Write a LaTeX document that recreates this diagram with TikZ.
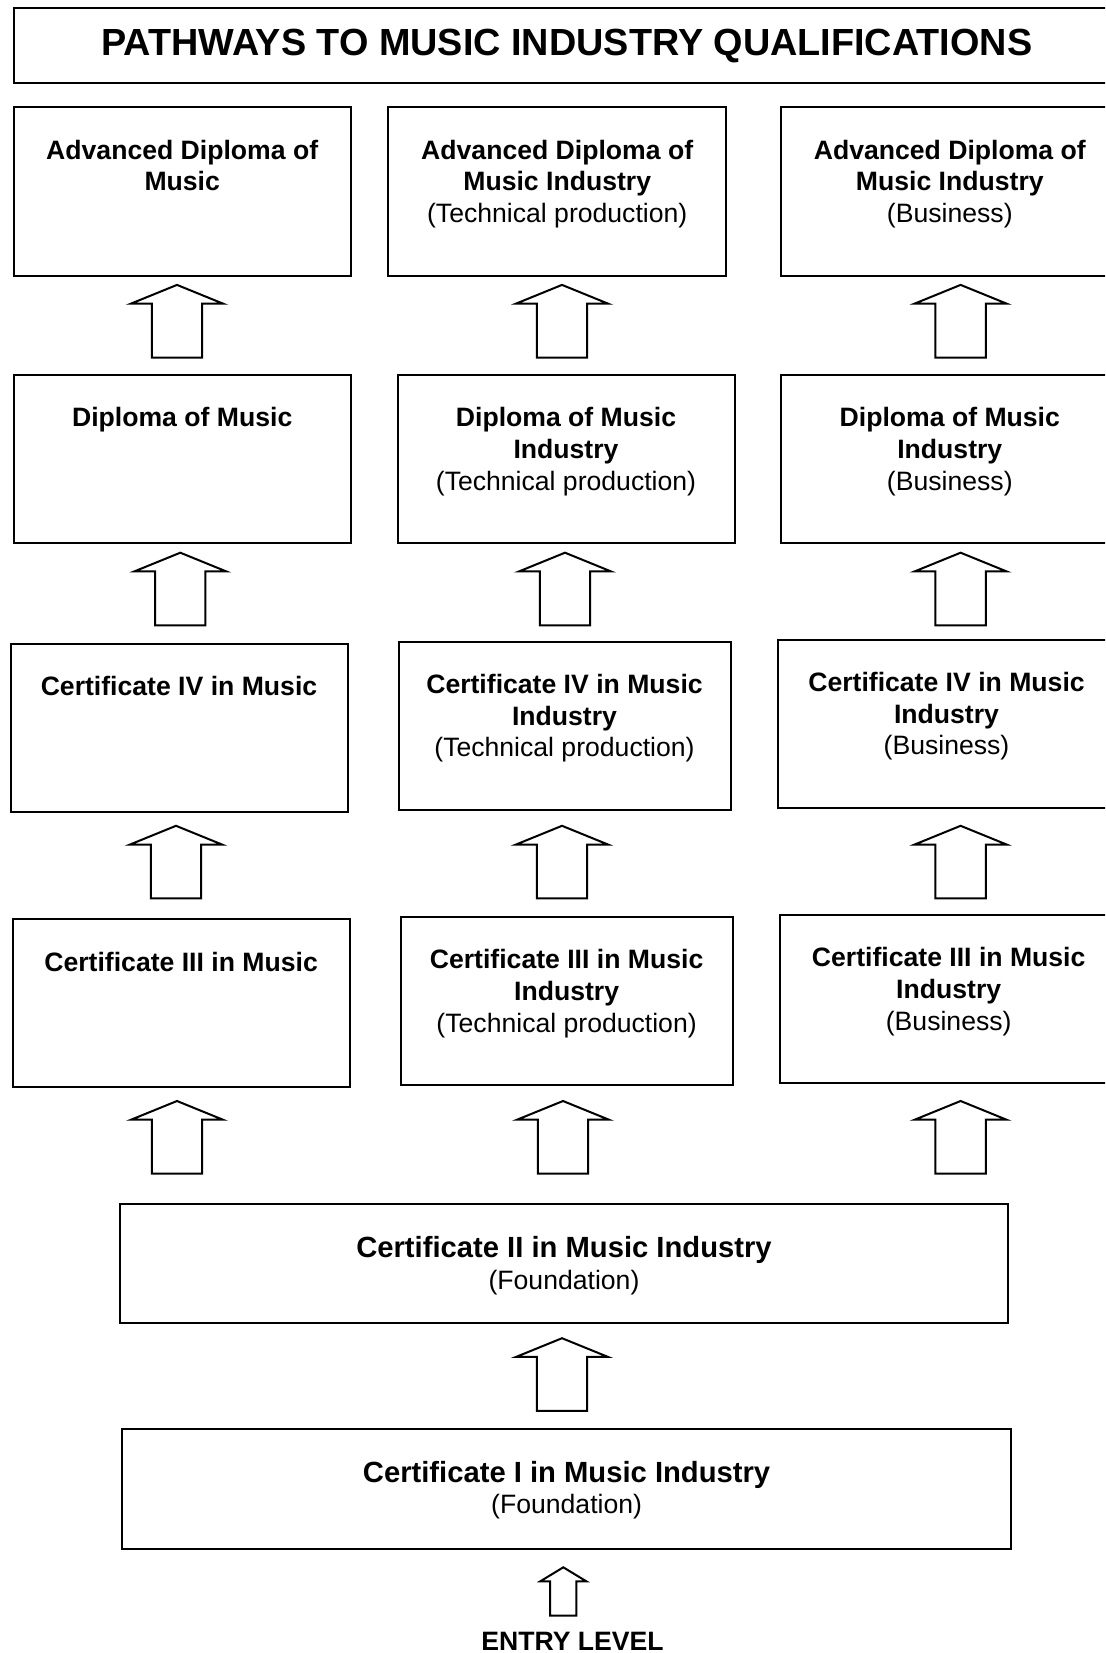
\documentclass[tikz,border=0pt]{standalone}
\usepackage{fontspec}
\setmainfont{Liberation Sans}
\usetikzlibrary{shapes.arrows}

\begin{document}
\begin{tikzpicture}[
  x=0.5pt, y=-0.5pt,
  font=\fontsize{13.3}{15.8}\selectfont,
  qualbox/.style={draw, line width=1pt, anchor=north west, inner sep=0pt,
    minimum width=#1, minimum height=84pt},
  qualbox/.default=168.5pt,
  qualtext/.style={anchor=north, align=center, inner sep=0pt, yshift=-16.5pt},
  bigup/.style={single arrow, draw, line width=1pt, rotate=90, anchor=tail,
    inner xsep=0pt, inner ysep=12.07pt, minimum width=0pt, minimum height=36.3pt,
    single arrow head extend=10.4pt, single arrow tip angle=135.7},
  smallup/.style={bigup, inner ysep=6.07pt, minimum height=24.2pt,
    single arrow head extend=4.9pt, single arrow tip angle=117.4}
]
\clip (0,0) rectangle (1105,1653);

% title
\node[qualbox=553pt, minimum height=37.4pt,
  font=\fontsize{18.9}{22}\selectfont\bfseries] (title) at (12.7,7.4)
  {PATHWAYS TO MUSIC INDUSTRY QUALIFICATIONS};

% advanced diplomas
\node[qualbox, label={[qualtext]north:{\bfseries Advanced Diploma of}\\{\bfseries Music}}]
  (advmus) at (12.7,106.5) {};
\node[qualbox=169.2pt, label={[qualtext]north:{\bfseries Advanced Diploma of}\\{\bfseries Music Industry}\\(Technical production)}]
  (advtech) at (387,106.5) {};
\node[qualbox, label={[qualtext]north:{\bfseries Advanced Diploma of}\\{\bfseries Music Industry}\\(Business)}]
  (advbus) at (780.3,106.5) {};

% diplomas
\node[qualbox, label={[qualtext]north:{\bfseries Diploma of Music}}]
  (dipmus) at (12.7,374.3) {};
\node[qualbox, label={[qualtext]north:{\bfseries Diploma of Music}\\{\bfseries Industry}\\(Technical production)}]
  (diptech) at (396.5,374.3) {};
\node[qualbox, label={[qualtext]north:{\bfseries Diploma of Music}\\{\bfseries Industry}\\(Business)}]
  (dipbus) at (780.3,374.3) {};

% certificate IV
\node[qualbox, label={[qualtext]north:{\bfseries Certificate IV in Music}}]
  (cfourmus) at (9.5,643.2) {};
\node[qualbox=166pt, label={[qualtext]north:{\bfseries Certificate IV in Music}\\{\bfseries Industry}\\(Technical production)}]
  (cfourtech) at (397.5,641) {};
\node[qualbox, label={[qualtext]north:{\bfseries Certificate IV in Music}\\{\bfseries Industry}\\(Business)}]
  (cfourbus) at (777,639) {};

% certificate III
\node[qualbox, label={[qualtext]north:{\bfseries Certificate III in Music}}]
  (cthreemus) at (11.6,918.4) {};
\node[qualbox=166pt, label={[qualtext]north:{\bfseries Certificate III in Music}\\{\bfseries Industry}\\(Technical production)}]
  (cthreetech) at (399.6,916.3) {};
\node[qualbox, label={[qualtext]north:{\bfseries Certificate III in Music}\\{\bfseries Industry}\\(Business)}]
  (cthreebus) at (779.2,914.2) {};

% certificates II and I
\node[qualbox=443.9pt, minimum height=59.6pt,
  label={[qualtext]north:{\fontsize{14.6}{15.8}\selectfont\bfseries Certificate II in Music Industry}\\(Foundation)}]
  (certtwo) at (119.1,1203) {};
\node[qualbox=444.3pt, minimum height=60.1pt,
  label={[qualtext]north:{\fontsize{14.6}{15.8}\selectfont\bfseries Certificate I in Music Industry}\\(Foundation)}]
  (certone) at (121.3,1427.7) {};

% block arrows
\node[bigup] (upadvmus) at (177,358.5) {};
\node[bigup] (upadvtech) at (562,358.5) {};
\node[bigup] (upadvbus) at (960.6,358.5) {};
\node[bigup] (updipmus) at (180.3,626.3) {};
\node[bigup] (updiptech) at (565,626.3) {};
\node[bigup] (updipbus) at (960.6,626.3) {};
\node[bigup] (upcfourmus) at (176,899.4) {};
\node[bigup] (upcfourtech) at (562,899.4) {};
\node[bigup] (upcfourbus) at (960.6,899.4) {};
\node[bigup] (upcthreemus) at (177,1174.6) {};
\node[bigup] (upcthreetech) at (563,1174.6) {};
\node[bigup] (upcthreebus) at (960.6,1174.6) {};
\node[bigup] (upcerttwo) at (562,1411.8) {};
\node[smallup] (upcertone) at (563.3,1616.7) {};

\node[inner sep=0pt, font=\fontsize{13.3}{15.8}\selectfont\bfseries] (entry) at (572.5,1641) {ENTRY LEVEL};
\end{tikzpicture}
\end{document}
